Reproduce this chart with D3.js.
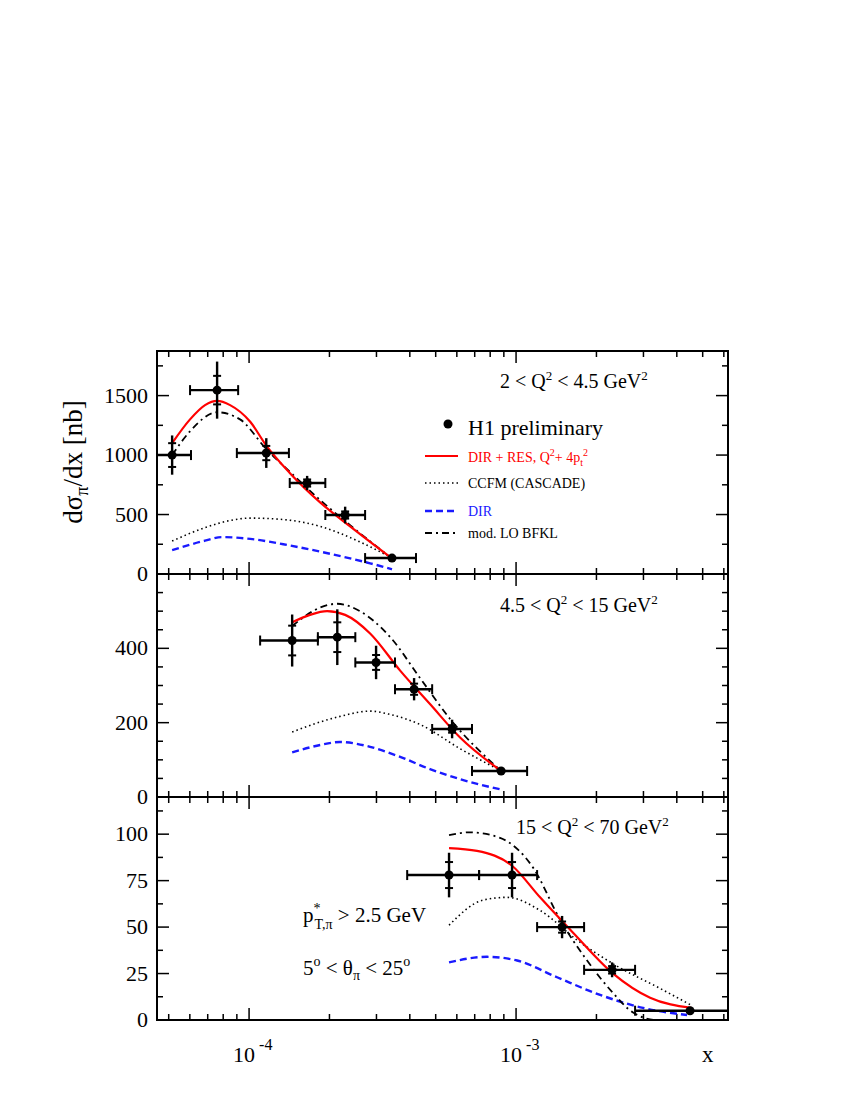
<!DOCTYPE html>
<html><head><meta charset="utf-8">
<script src="https://cdn.jsdelivr.net/npm/d3@7"></script>
<style>body{margin:0;background:#fff}text{font-family:"Liberation Serif","DejaVu Serif",serif}</style>
</head><body><svg id="c" width="850" height="1100"></svg>
<script>
// ---- data ----
const xDomain=[4.52e-5,6.22e-3];
const yMax=[1875,600,120];
const qLabels=["2 < Q","4.5 < Q","15 < Q"];
const qUpper=["4.5","15","70"];
// points
const p1x=[5.15e-5,7.59e-5,1.16e-4,1.65e-4,2.29e-4,3.43e-4];
const p1lo=[4.52e-5,6.01e-5,9.0e-5,1.42e-4,1.93e-4,2.72e-4];
const p1hi=[6.06e-5,9.1e-5,1.41e-4,1.93e-4,2.72e-4,4.22e-4];
const p1y=[1000,1546,1017,765,496,134];
const p1e=[165,240,125,60,70,20];
const p1es=[100,120,60,30,30,10];
const p2x=[1.45e-4,2.14e-4,2.99e-4,4.15e-4,5.76e-4,8.79e-4];
const p2lo=[1.10e-4,1.81e-4,2.50e-4,3.52e-4,4.85e-4,6.84e-4];
const p2hi=[1.81e-4,2.50e-4,3.52e-4,4.85e-4,6.84e-4,1.10e-3];
const p2y=[421,430,362,290,183,70];
const p2e=[70,75,45,30,25,6];
const p2es=[40,40,20,15,10,3];
const p3x=[5.61e-4,9.66e-4,1.487e-3,2.289e-3,4.484e-3];
const p3lo=[3.91e-4,7.27e-4,1.199e-3,1.798e-3,2.791e-3];
const p3hi=[7.27e-4,1.199e-3,1.798e-3,2.791e-3,6.22e-3];
const p3y=[78,78,50,27,5];
const p3e=[12,12,6,4,0.6];
const p3es=[7,7,3,2,0.3];
// curves panel 1
const r1x=[5.15e-5,6.01e-5,6.84e-5,7.59e-5,8.49e-5,1.01e-4,1.16e-4,1.42e-4,1.85e-4,2.39e-4,3.43e-4];
const r1y=[1100,1300,1420,1455,1420,1280,1080,850,600,400,130];
const b1x=[5.15e-5,6.01e-5,7.59e-5,9.25e-5,1.16e-4,1.42e-4,1.85e-4,2.39e-4,3.43e-4];
const b1y=[1000,1200,1360,1300,1050,860,620,410,130];
const c1x=[5.15e-5,6.84e-5,8.49e-5,1.01e-4,1.31e-4,1.85e-4,2.60e-4,3.43e-4];
const c1y=[277,390,450,470,460,400,270,135];
const d1x=[5.15e-5,6.84e-5,7.92e-5,1.01e-4,1.42e-4,2.01e-4,2.84e-4,3.43e-4];
const d1y=[200,280,310,295,240,170,90,40];
// curves panel 2
const r2x=[1.45e-4,1.69e-4,1.96e-4,2.29e-4,2.84e-4,3.68e-4,4.76e-4,6.17e-4,8.79e-4];
const r2y=[470,490,500,490,440,340,250,160,70];
const b2x=[1.45e-4,1.85e-4,2.14e-4,2.60e-4,3.38e-4,4.37e-4,5.66e-4,8.79e-4];
const b2y=[460,510,520,500,430,320,210,70];
const c2x=[1.45e-4,2.14e-4,2.84e-4,3.38e-4,4.37e-4,6.17e-4,8.79e-4];
const c2y=[175,215,231,222,195,130,70];
const d2x=[1.45e-4,1.85e-4,2.19e-4,2.84e-4,3.68e-4,4.76e-4,6.17e-4,8.79e-4];
const d2y=[120,140,148,135,108,75,48,20];
// curves panel 3
const r3x=[5.61e-4,7.14e-4,9.66e-4,1.23e-3,1.635e-3,2.309e-3,3.177e-3,4.523e-3];
const r3y=[92.5,91,83,66,47,25,12,6.5];
const b3x=[5.61e-4,6.73e-4,8.71e-4,1.158e-3,1.462e-3,1.845e-3,2.309e-3,2.743e-3,3.375e-3,4.484e-3];
const b3y=[99.5,101,98,82,54,32,14.5,4,0,0];
const c3x=[5.61e-4,7.52e-4,9.25e-4,1.23e-3,1.692e-3,2.389e-3,3.462e-3,4.523e-3];
const c3y=[51,64.5,66,59,43,29,17,8];
const d3x=[5.61e-4,7.79e-4,1.009e-3,1.424e-3,2.064e-3,2.99e-3,4.37e-3];
const d3y=[31,34,32,23,13.5,6.5,2.7];

// ---- drawing ----
const svg=d3.select("#c");
const L=157,R=728,panelTop=[351,574,797],PH=223;
const x=d3.scaleLog().domain(xDomain).range([L,R]);
const panels=[
 {px:p1x,lo:p1lo,hi:p1hi,py:p1y,e:p1e,es:p1es,r:[r1x,r1y],b:[b1x,b1y],c:[c1x,c1y],d:[d1x,d1y],ticks:[0,500,1000,1500],minor:250},
 {px:p2x,lo:p2lo,hi:p2hi,py:p2y,e:p2e,es:p2es,r:[r2x,r2y],b:[b2x,b2y],c:[c2x,c2y],d:[d2x,d2y],ticks:[0,200,400],minor:50},
 {px:p3x,lo:p3lo,hi:p3hi,py:p3y,e:p3e,es:p3es,r:[r3x,r3y],b:[b3x,b3y],c:[c3x,c3y],d:[d3x,d3y],ticks:[0,25,50,75,100],minor:12.5}
];
const xt=[];for(let e=-5;e<=-3;e++)for(let m=1;m<10;m++){const v=m*Math.pow(10,e);if(v>=xDomain[0]&&v<=xDomain[1])xt.push(v);}
panels.forEach((P,i)=>{
 const T=panelTop[i],B=T+PH;
 const y=d3.scaleLinear().domain([0,yMax[i]]).range([B,T]);
 const g=svg.append("g");
 g.append("rect").attr("x",L).attr("y",T).attr("width",R-L).attr("height",PH).attr("fill","none").attr("stroke","#000").attr("stroke-width",2);
 for(let v=0;v<=yMax[i];v+=P.minor){const maj=P.ticks.includes(v);const len=maj?12:6;
  g.append("line").attr("x1",L).attr("x2",L+len).attr("y1",y(v)).attr("y2",y(v)).attr("stroke","#000").attr("stroke-width",1.5);
  g.append("line").attr("x1",R).attr("x2",R-len).attr("y1",y(v)).attr("y2",y(v)).attr("stroke","#000").attr("stroke-width",1.5);}
 P.ticks.forEach(v=>g.append("text").attr("x",148).attr("y",y(v)+7).attr("text-anchor","end").attr("font-size",22).text(v));
 xt.forEach(v=>{const maj=Math.abs(Math.log10(v)-Math.round(Math.log10(v)))<1e-9;const len=maj?12:6;
  g.append("line").attr("x1",x(v)).attr("x2",x(v)).attr("y1",B).attr("y2",B-len).attr("stroke","#000").attr("stroke-width",1.5);
  g.append("line").attr("x1",x(v)).attr("x2",x(v)).attr("y1",T).attr("y2",T+len).attr("stroke","#000").attr("stroke-width",1.5);});
 const line=d3.line().x(d=>x(d[0])).y(d=>y(d[1])).curve(d3.curveMonotoneX);
 const mk=(c)=>c[0].map((v,k)=>[v,c[1][k]]);
 g.append("path").attr("d",line(mk(P.c))).attr("fill","none").attr("stroke","#000").attr("stroke-width",1.6).attr("stroke-dasharray","1.5,3");
 g.append("path").attr("d",line(mk(P.d))).attr("fill","none").attr("stroke","#1a1aff").attr("stroke-width",2.4).attr("stroke-dasharray","7,4");
 g.append("path").attr("d",line(mk(P.b))).attr("fill","none").attr("stroke","#000").attr("stroke-width",1.8).attr("stroke-dasharray","7,4,2,4");
 g.append("path").attr("d",line(mk(P.r))).attr("fill","none").attr("stroke","#ff0000").attr("stroke-width",2.2);
 P.px.forEach((v,k)=>{const cx=x(v),cy=y(P.py[k]);
  g.append("line").attr("x1",x(P.lo[k])).attr("x2",Math.min(x(P.hi[k]),R)).attr("y1",cy).attr("y2",cy).attr("stroke","#000").attr("stroke-width",2.4);
  [P.lo[k],P.hi[k]].forEach(xx=>{if(x(xx)<R-1)g.append("line").attr("x1",x(xx)).attr("x2",x(xx)).attr("y1",cy-5).attr("y2",cy+5).attr("stroke","#000").attr("stroke-width",2);});
  g.append("line").attr("x1",cx).attr("x2",cx).attr("y1",Math.max(y(P.py[k]+P.e[k]),T)).attr("y2",y(P.py[k]-P.e[k])).attr("stroke","#000").attr("stroke-width",2.4);
  [1,-1].forEach(s=>g.append("line").attr("x1",cx-4).attr("x2",cx+4).attr("y1",y(P.py[k]+s*P.es[k])).attr("y2",y(P.py[k]+s*P.es[k])).attr("stroke","#000").attr("stroke-width",2));
  g.append("circle").attr("cx",cx).attr("cy",cy).attr("r",4.5).attr("fill","#000");});
});
const qpos=[[500,388],[500,612],[516,834]];
qpos.forEach((p,i)=>{const t=svg.append("text").attr("x",p[0]).attr("y",p[1]).attr("font-size",20);
 t.append("tspan").text(qLabels[i]);t.append("tspan").attr("dy",-8).attr("font-size",13).text("2");
 t.append("tspan").attr("dy",8).text(" < "+qUpper[i]+" GeV");t.append("tspan").attr("dy",-8).attr("font-size",13).text("2");});
svg.append("circle").attr("cx",448).attr("cy",424).attr("r",4.5);
svg.append("text").attr("x",468).attr("y",435).attr("font-size",22).text("H1 preliminary");
const lg=[{y:456,c:"#ff0000",da:null,w:2.2},{y:483,c:"#000",da:"1.5,3",w:1.6},{y:511,c:"#1a1aff",da:"7,4",w:2.4},{y:533,c:"#000",da:"7,4,2,4",w:1.8}];
lg.forEach(l=>svg.append("line").attr("x1",425).attr("x2",458).attr("y1",l.y).attr("y2",l.y).attr("stroke",l.c).attr("stroke-width",l.w).attr("stroke-dasharray",l.da));
const t1=svg.append("text").attr("x",468).attr("y",462).attr("font-size",14).attr("fill","#ff0000");
t1.append("tspan").text("DIR + RES, Q");t1.append("tspan").attr("dy",-6).attr("font-size",10).text("2");
t1.append("tspan").attr("dy",6).text("+ 4p");t1.append("tspan").attr("dy",4).attr("font-size",10).text("t");
t1.append("tspan").attr("dy",-10).attr("font-size",10).text("2");
svg.append("text").attr("x",468).attr("y",488).attr("font-size",14).text("CCFM (CASCADE)");
svg.append("text").attr("x",468).attr("y",516).attr("font-size",14).attr("fill","#1a1aff").text("DIR");
svg.append("text").attr("x",468).attr("y",538).attr("font-size",14).text("mod. LO BFKL");
const c1=svg.append("text").attr("x",303).attr("y",922).attr("font-size",21);
c1.append("tspan").text("p");c1.append("tspan").attr("dy",-9).attr("font-size",14).text("*");
c1.append("tspan").attr("dx",-6).attr("dy",16).attr("font-size",14).text("T,π");
c1.append("tspan").attr("dy",-7).text(" > 2.5 GeV");
const c2=svg.append("text").attr("x",303).attr("y",975).attr("font-size",21);
c2.append("tspan").text("5");c2.append("tspan").attr("dy",-9).attr("font-size",14).text("o");
c2.append("tspan").attr("dy",9).text(" < θ");c2.append("tspan").attr("dy",5).attr("font-size",14).text("π");
c2.append("tspan").attr("dy",-5).text(" < 25");c2.append("tspan").attr("dy",-9).attr("font-size",14).text("o");
const yt=svg.append("text").attr("transform","translate(82,462) rotate(-90)").attr("text-anchor","middle").attr("font-size",27);
yt.append("tspan").text("dσ");yt.append("tspan").attr("dy",6).attr("font-size",18).text("π");yt.append("tspan").attr("dy",-6).text("/dx [nb]");
[1e-4,1e-3].forEach(v=>{const t=svg.append("text").attr("x",x(v)-16).attr("y",1062).attr("font-size",22);
 t.append("tspan").text("10");t.append("tspan").attr("dy",-12).attr("font-size",16).text(" -"+(-Math.round(Math.log10(v))));});
svg.append("text").attr("x",702).attr("y",1062).attr("font-size",23).text("x");
</script></body></html>
